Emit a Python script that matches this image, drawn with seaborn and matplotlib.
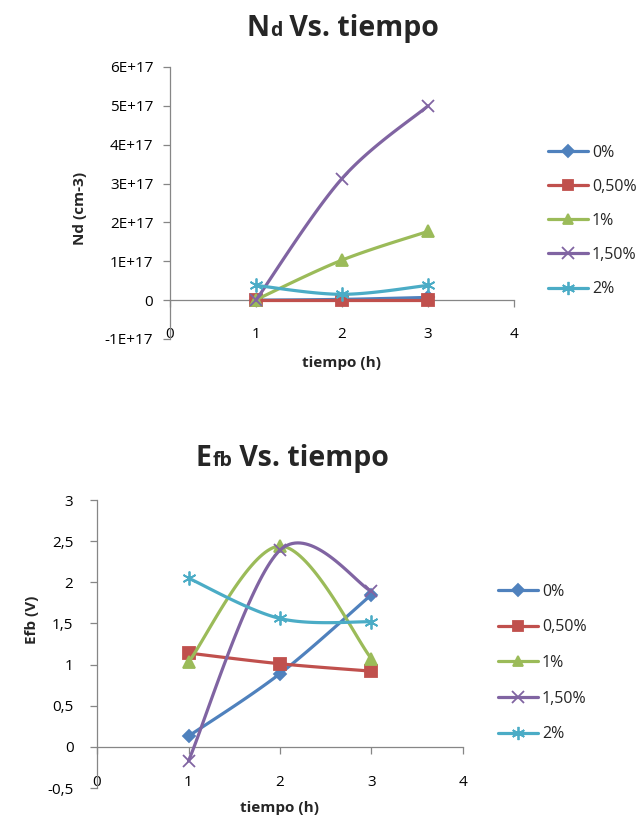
import numpy as np
import pandas as pd
import matplotlib
matplotlib.use("Agg")
import matplotlib.pyplot as plt
from matplotlib.lines import Line2D
from matplotlib.ticker import FuncFormatter
from matplotlib.font_manager import FontProperties
import seaborn as sns

# ---------------- data ----------------
tiempo = [1, 2, 3]
series_labels = ["0%", "0,50%", "1%", "1,50%", "2%"]

nd_0 = [0.0, 0.02e17, 0.07e17]
nd_05 = [0.0, 0.0, 0.0]
nd_1 = [0.01e17, 1.03e17, 1.77e17]
nd_15 = [0.0, 3.13e17, 5.0e17]
nd_2 = [0.38e17, 0.15e17, 0.38e17]

efb_0 = [0.13, 0.89, 1.85]
efb_05 = [1.14, 1.01, 0.92]
efb_1 = [1.03, 2.44, 1.07]
efb_15 = [-0.17, 2.39, 1.89]
efb_2 = [2.05, 1.56, 1.52]

nd_yticks = [-1e17, 0, 1e17, 2e17, 3e17, 4e17, 5e17, 6e17]
efb_yticks = [-0.5, 0, 0.5, 1, 1.5, 2, 2.5, 3]
x_ticks = [0, 1, 2, 3, 4]

colors = ["#4F81BD", "#C0504D", "#9BBB59", "#8064A2", "#4BACC6"]
markers = ["D", "s", "^", "x", (6, 2, 0)]
msizes = [6.5, 8, 8, 9, 10]

sns.set_theme(style="white")
FONT = ["Open Sans", "DejaVu Sans"]
plt.rcParams["font.family"] = FONT

AX_COL = "#868686"
TICK_FS = 11
LAB_FS = 11
LEG_FS = 11.5


def smooth(xs, ys, n=40):
    P = np.column_stack([np.asarray(xs, float), np.asarray(ys, float)])
    m = len(P)
    out = [P[0]]
    t = np.linspace(0, 1, n)[1:, None]
    for i in range(m - 1):
        p0 = P[max(i - 1, 0)]
        p1 = P[i]
        p2 = P[i + 1]
        p3 = P[min(i + 2, m - 1)]
        c1 = p1 + (p2 - p0) / 6.0
        c2 = p2 - (p3 - p1) / 6.0
        seg = ((1 - t) ** 3) * p1 + 3 * ((1 - t) ** 2) * t * c1 + 3 * (1 - t) * t ** 2 * c2 + t ** 3 * p2
        out.extend(seg)
    out = np.array(out)
    return out[:, 0], out[:, 1]


def draw_panel(ax, data, yticks, yfmt, xpad, ypad):
    for vals, c, mk, ms in zip(data, colors, markers, msizes):
        sx, sy = smooth(tiempo, vals)
        sns.lineplot(x=sx, y=sy, sort=False, estimator=None, color=c, lw=2.3, ax=ax)
        sns.lineplot(x=tiempo, y=vals, sort=False, estimator=None, color=c, marker=mk,
                     linestyle="", markersize=ms, markeredgecolor=c, markeredgewidth=1.3,
                     ax=ax)
    ax.set_xlim(x_ticks[0], x_ticks[-1])
    ax.set_ylim(yticks[0], yticks[-1])
    ax.set_yticks(yticks)
    ax.yaxis.set_major_formatter(FuncFormatter(yfmt))
    ax.set_xticks(x_ticks)
    ax.set_xticklabels([str(v) for v in x_ticks])
    for s in ["top", "right", "bottom"]:
        ax.spines[s].set_visible(False)
    ax.spines["left"].set_color(AX_COL)
    ax.spines["left"].set_linewidth(0.9)
    ax.tick_params(axis="y", direction="out", length=5, width=0.9, color=AX_COL,
                   labelsize=TICK_FS, labelcolor="#000000", pad=ypad, left=True)
    ax.tick_params(axis="x", length=0, labelsize=TICK_FS, labelcolor="#000000", pad=xpad)
    ax.set_xlabel("")
    ax.set_ylabel("")
    ax.grid(False)
    ax.set_facecolor("white")
    y0, y1 = ax.get_ylim()
    frac = (0 - y0) / (y1 - y0)
    sec = ax.secondary_xaxis(frac)
    sec.set_xticks(x_ticks)
    sec.tick_params(axis="x", direction="out", length=5, width=0.9, color=AX_COL,
                    labelbottom=False, labeltop=False)
    for sp in sec.spines.values():
        sp.set_color(AX_COL)
        sp.set_linewidth(0.9)


def nd_fmt(v, pos):
    if abs(v) < 1e10:
        return "0"
    k = int(round(v / 1e17))
    return f"{k}E+17"


def efb_fmt(v, pos):
    if abs(v - round(v)) < 1e-9:
        return str(int(round(v)))
    return f"{v:.1f}".replace(".", ",")


W, H = 641, 824
fig = plt.figure(figsize=(W / 100, H / 100), dpi=100)
fig.patch.set_facecolor("white")

ax1 = fig.add_axes([170 / W, 1 - 339 / H, (514 - 170) / W, (339 - 67) / H])
ax2 = fig.add_axes([97 / W, 1 - 788 / H, (463 - 97) / W, (788 - 500) / H])

draw_panel(ax1, [nd_0, nd_05, nd_1, nd_15, nd_2], nd_yticks, nd_fmt, -9, 7)
draw_panel(ax2, [efb_0, efb_05, efb_1, efb_15, efb_2], efb_yticks, efb_fmt, -9, 12)

# axis labels
fig.text(342 / W, 1 - 363 / H, "tiempo (h)", ha="center", va="center",
         fontsize=LAB_FS, fontweight="bold")
fig.text(280 / W, 1 - 808 / H, "tiempo (h)", ha="center", va="center",
         fontsize=LAB_FS, fontweight="bold")
fig.text(80 / W, 1 - 208 / H, "Nd (cm-3)", ha="center", va="center", rotation=90,
         fontsize=LAB_FS, fontweight="bold")
fig.text(32 / W, 1 - 620 / H, "Efb (V)", ha="center", va="center", rotation=90,
         fontsize=LAB_FS, fontweight="bold")

# titles: big letter + smaller letters sharing the baseline
renderer = fig.canvas.get_renderer()
BIG, SMALL = 20.5, 14


def descent_pts(size):
    fp = FontProperties(family=FONT, weight="bold", size=size)
    _, _, d = renderer.get_text_width_height_descent("lp", fp, ismath=False)
    return d * 72.0 / fig.dpi


def title(x_px, y_px, big, small, rest):
    t1 = fig.text(x_px / W, 1 - y_px / H, big, ha="left", va="baseline",
                  fontsize=BIG, fontweight="bold")
    d_big = descent_pts(BIG)
    d_small = descent_pts(SMALL)
    t2 = plt.annotate(small, xy=(1, 0), xycoords=t1, xytext=(0.5, d_big),
                      textcoords="offset points", va="baseline", ha="left",
                      fontsize=SMALL, fontweight="bold", annotation_clip=False)
    plt.annotate(rest, xy=(1, 0), xycoords=t2, xytext=(0, d_small),
                 textcoords="offset points", va="baseline", ha="left",
                 fontsize=BIG, fontweight="bold", annotation_clip=False)


title(246, 36, "N", "d", " Vs. tiempo")
title(196, 466, "E", "fb", " Vs. tiempo")

# legends
handles = [Line2D([0], [0], color=c, lw=2.3, marker=mk, markersize=ms * 0.95,
                  markeredgecolor=c, markeredgewidth=1.3)
           for c, mk, ms in zip(colors, markers, msizes)]
fig.legend(handles, series_labels, loc="center left", bbox_to_anchor=(548 / W, 1 - 221 / H),
           frameon=False, fontsize=LEG_FS, handlelength=2.5, handletextpad=0.25,
           labelspacing=1.13, borderpad=0, borderaxespad=0)
fig.legend(handles, series_labels, loc="center left", bbox_to_anchor=(498 / W, 1 - 663 / H),
           frameon=False, fontsize=LEG_FS, handlelength=2.5, handletextpad=0.25,
           labelspacing=1.23, borderpad=0, borderaxespad=0)

fig.savefig("out.png", dpi=100, facecolor="white")
